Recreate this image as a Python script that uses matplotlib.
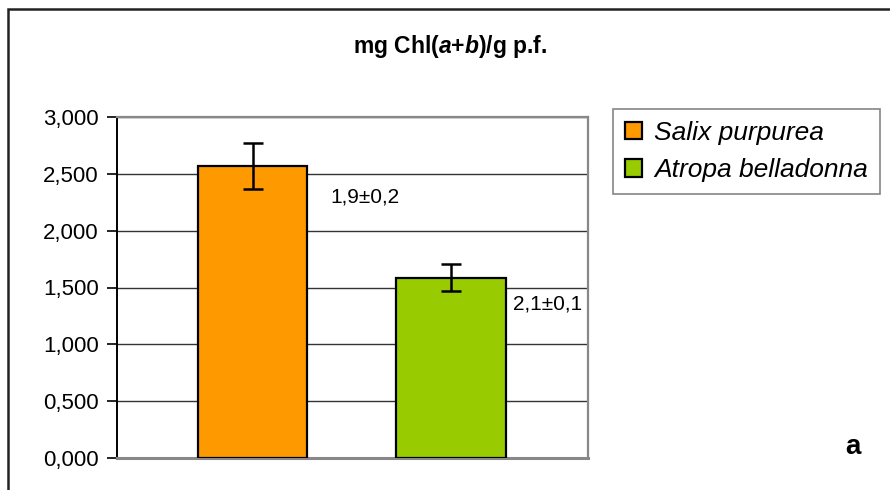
import matplotlib
matplotlib.use("Agg")
import matplotlib.pyplot as plt
from matplotlib.patches import Rectangle, Patch
from matplotlib.ticker import FuncFormatter, MultipleLocator

plt.rcParams['font.family'] = ['Liberation Sans', 'DejaVu Sans']
plt.rcParams['mathtext.fontset'] = 'custom'
plt.rcParams['mathtext.rm'] = 'Liberation Sans'
plt.rcParams['mathtext.bf'] = 'Liberation Sans:bold'
plt.rcParams['mathtext.bfit'] = 'Liberation Sans:bold:italic'
plt.rcParams['mathtext.it'] = 'Liberation Sans:italic'

species = ["Salix purpurea", "Atropa belladonna"]
means = [2.57, 1.585]
errors = [0.20, 0.12]
ratio_labels = ["1,9±0,2", "2,1±0,1"]
colors = ["#FF9900", "#99CC00"]

fig = plt.figure(figsize=(8.9, 4.9), dpi=100)
# outer chart frame
fig.patches.append(Rectangle((8/890, -0.5), 2.0, 1.5 - 9/490, transform=fig.transFigure,
                             fill=False, edgecolor="#222222", linewidth=1.8))

ax = fig.add_axes([117/890, 1 - 458/490, (588 - 117)/890, (458 - 117)/490])
x = [0, 1]
for i in range(2):
    ax.bar(x[i], means[i], width=0.55, color=colors[i], edgecolor="black", linewidth=1.6,
           zorder=3, label=species[i])
    ax.errorbar(x[i], means[i], yerr=errors[i], fmt="none", ecolor="black", elinewidth=1.8,
                capsize=7, capthick=1.8, zorder=4)

ax.set_xlim(-0.683, 1.69)
ax.set_ylim(0, 3.0)
ax.yaxis.set_major_locator(MultipleLocator(0.5))
ax.yaxis.set_major_formatter(FuncFormatter(lambda v, p: f"{v:.3f}".replace(".", ",")))
ax.set_xticks([])
ax.grid(axis="y", color="#333333", linewidth=1.0, zorder=0)
ax.tick_params(axis="y", length=7, width=1.2, color="black", labelsize=16, pad=6)
for s in ["top", "right"]:
    ax.spines[s].set_color("#888888")
    ax.spines[s].set_linewidth(1.6)
ax.spines["bottom"].set_color("#888888")
ax.spines["bottom"].set_linewidth(2.2)
ax.spines["left"].set_color("black")
ax.spines["left"].set_linewidth(1.4)

# ratio labels next to bars
ax.text((330 - 451) / 198.5 + 1, 2.295, ratio_labels[0], fontsize=15, ha="left", va="center")
ax.text((513 - 451) / 198.5 + 1, 1.355, ratio_labels[1], fontsize=15, ha="left", va="center")

fig.text(450/890, 1 - 46/490, r"mg Chl($\mathbfit{a}$+$\mathbfit{b}$)/g p.f.", fontsize=16.5,
         fontweight="bold", ha="center", va="center")

handles = [Patch(facecolor=colors[i], edgecolor="black", linewidth=1.6, label=species[i])
           for i in range(2)]
leg = fig.legend(handles=handles, loc="upper left", bbox_to_anchor=(613/890, 1 - 109/490),
                 prop={"style": "italic", "size": 19}, frameon=True, fancybox=False,
                 edgecolor="#666666", handlelength=0.65, handleheight=0.65, handletextpad=0.45,
                 borderpad=0.45, labelspacing=0.5, borderaxespad=0)
leg.get_frame().set_linewidth(1.2)

fig.text(853/890, 1 - 447/490, "a", fontsize=20, fontweight="bold", ha="center", va="center")

fig.savefig("out.png", dpi=100)
